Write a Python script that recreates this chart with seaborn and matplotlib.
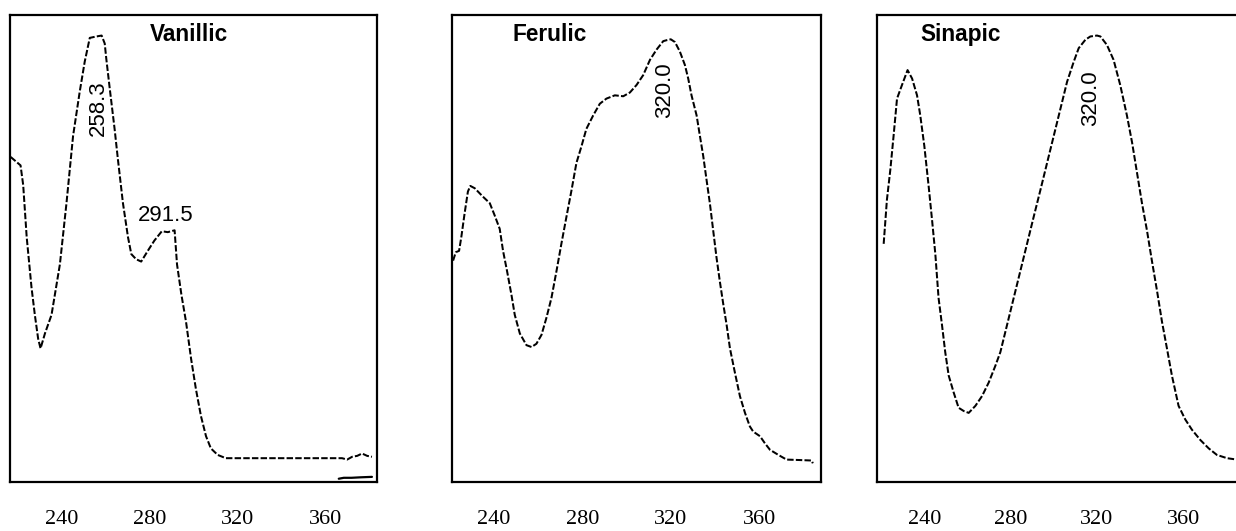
import numpy as np
import pandas as pd
import matplotlib
matplotlib.use("Agg")
import matplotlib.pyplot as plt
from matplotlib.font_manager import FontProperties
import seaborn as sns

sns.set_theme(style="white")
plt.rcParams["font.family"] = ["Liberation Sans", "DejaVu Sans"]

# ---- spectra (wavelength in nm, absorbance in relative units) ----
vanillic_nm = [216.9, 221.4, 222.6, 224.2, 226.4, 227.9, 229.4, 230.5, 232.5, 235.5,
               239.3, 242.3, 245.3, 248.3, 250.6, 252.9, 255.9, 258.3, 259.7, 260.4,
               262.0, 264.2, 265.7, 268.0, 270.3, 271.8, 274.0, 276.3, 279.3, 282.3,
               285.7, 288.4, 291.5, 292.6, 294.6, 296.7, 299.0, 301.2, 303.5, 305.8,
               308.0, 311.1, 314.8, 367.7, 370.0, 372.3, 374.6, 376.8, 379.1, 381.3]
vanillic_abs = [0.696, 0.678, 0.636, 0.524, 0.416, 0.358, 0.307, 0.286, 0.318, 0.358,
                0.466, 0.597, 0.741, 0.835, 0.900, 0.951, 0.954, 0.956, 0.939, 0.907,
                0.842, 0.756, 0.691, 0.597, 0.524, 0.488, 0.477, 0.472, 0.495, 0.517,
                0.537, 0.535, 0.539, 0.466, 0.401, 0.343, 0.264, 0.199, 0.141, 0.098,
                0.072, 0.058, 0.051, 0.051, 0.048, 0.054, 0.056, 0.061, 0.056, 0.054]
# short baseline trace near the bottom right of the first panel
vanillic_tail_nm = [366.2, 368.5, 372.0, 376.0, 381.3]
vanillic_tail_abs = [0.007, 0.009, 0.009, 0.010, 0.011]

ferulic_nm = [221.5, 222.7, 224.2, 225.2, 226.7, 228.2, 229.3, 231.3, 235.0, 238.1,
              240.3, 242.6, 244.1, 245.9, 247.9, 249.4, 251.7, 254.7, 257.0, 259.2,
              261.5, 263.7, 266.0, 268.3, 270.5, 272.8, 275.1, 277.3, 279.6, 281.8,
              284.9, 287.9, 290.9, 294.7, 298.5, 301.5, 304.5, 307.5, 310.6, 313.6,
              316.6, 318.1, 320.0, 321.9, 324.1, 326.4, 327.9, 329.4, 331.7, 333.2,
              334.7, 336.2, 337.7, 339.2, 340.7, 342.2, 343.8, 345.3, 346.8, 349.0,
              351.3, 353.6, 355.8, 357.3, 360.4, 362.6, 364.9, 368.7, 372.4, 378.5,
              383.8, 384.3]
ferulic_abs = [0.474, 0.492, 0.495, 0.524, 0.575, 0.622, 0.634, 0.629, 0.611, 0.597,
               0.571, 0.542, 0.495, 0.452, 0.401, 0.358, 0.318, 0.293, 0.289, 0.296,
               0.315, 0.351, 0.394, 0.452, 0.510, 0.568, 0.625, 0.683, 0.719, 0.756,
               0.785, 0.810, 0.821, 0.828, 0.826, 0.834, 0.850, 0.871, 0.904, 0.926,
               0.944, 0.946, 0.948, 0.942, 0.922, 0.893, 0.864, 0.828, 0.785, 0.741,
               0.698, 0.647, 0.597, 0.539, 0.481, 0.430, 0.380, 0.336, 0.286, 0.235,
               0.184, 0.148, 0.119, 0.108, 0.098, 0.083, 0.069, 0.058, 0.048, 0.047,
               0.046, 0.040]

sinapic_nm = [220.9, 221.7, 222.4, 224.0, 225.5, 227.1, 229.4, 232.0, 234.1, 236.4,
              237.9, 239.8, 241.8, 243.4, 244.9, 246.4, 248.0, 249.5, 251.1, 253.4,
              255.7, 258.1, 260.4, 263.5, 266.6, 269.7, 272.8, 275.1, 278.2, 281.3,
              284.4, 287.5, 290.6, 293.7, 296.8, 299.9, 303.0, 306.1, 309.2, 311.5,
              314.6, 316.9, 320.0, 321.6, 324.6, 327.7, 330.8, 333.9, 336.3, 338.6,
              340.9, 343.2, 345.5, 347.9, 350.2, 352.5, 354.8, 357.9, 361.0, 364.1,
              368.0, 371.9, 375.7, 380.4, 385.0]
sinapic_abs = [0.510, 0.560, 0.604, 0.669, 0.741, 0.821, 0.850, 0.882, 0.864, 0.828,
               0.785, 0.719, 0.633, 0.560, 0.488, 0.394, 0.336, 0.278, 0.228, 0.192,
               0.159, 0.152, 0.148, 0.163, 0.184, 0.213, 0.249, 0.278, 0.336, 0.394,
               0.452, 0.510, 0.568, 0.625, 0.683, 0.741, 0.799, 0.857, 0.900, 0.929,
               0.947, 0.954, 0.956, 0.954, 0.936, 0.904, 0.850, 0.785, 0.727, 0.662,
               0.597, 0.539, 0.474, 0.409, 0.343, 0.286, 0.228, 0.163, 0.134, 0.112,
               0.090, 0.072, 0.058, 0.051, 0.048]

compounds = ["Vanillic", "Ferulic", "Sinapic"]
tick_values = [240, 280, 320, 360]

# labelled absorption maxima (nm)
vanillic_peaks = [258.3, 291.5]
ferulic_peaks = [320.0]
sinapic_peaks = [320.0]

# ---- layout ----
W, H = 1236, 531
fig = plt.figure(figsize=(W / 100, H / 100), dpi=100)

def px_axes(x0, x1, y0=15, y1=482):
    return fig.add_axes([x0 / W, (H - y1) / H, (x1 - x0) / W, (y1 - y0) / H])

panels = [
    dict(rect=(10, 377), xlim=(216.6, 383.6), name=compounds[0], title_x=0.488,
         nm=vanillic_nm, ab=vanillic_abs, peaks=vanillic_peaks,
         label_style=[(-1.7, 0.800, 90), (-3.9, 0.571, 0)]),
    dict(rect=(452, 821), xlim=(221.0, 388.0), name=compounds[1], title_x=0.266,
         nm=ferulic_nm, ab=ferulic_abs, peaks=ferulic_peaks,
         label_style=[(-2.7, 0.839, 90)]),
    dict(rect=(877, 1241), xlim=(217.8, 386.9), name=compounds[2], title_x=0.231,
         nm=sinapic_nm, ab=sinapic_abs, peaks=sinapic_peaks,
         label_style=[(-3.1, 0.821, 90)]),
]

dash = (0, (3.2, 1.1))
tick_font = FontProperties(family="Liberation Serif", size=16)

for i, p in enumerate(panels):
    ax = px_axes(*p["rect"])
    df = pd.DataFrame({"nm": p["nm"], "abs": p["ab"]})
    sns.lineplot(data=df, x="nm", y="abs", ax=ax, color="black", lw=1.45,
                 linestyle=dash, estimator=None)
    if i == 0:
        tail = pd.DataFrame({"nm": vanillic_tail_nm, "abs": vanillic_tail_abs})
        sns.lineplot(data=tail, x="nm", y="abs", ax=ax, color="black", lw=1.6,
                     estimator=None)

    ax.set_xlim(*p["xlim"])
    ax.set_ylim(0, 1)
    ax.set_xlabel("")
    ax.set_ylabel("")
    ax.set_yticks([])
    ax.tick_params(axis="x", length=0, pad=20, colors="black")
    ax.set_xticks(tick_values)
    ax.set_xticklabels([str(t) for t in tick_values])
    for lab in ax.get_xticklabels():
        lab.set_fontproperties(tick_font)
    for s in ax.spines.values():
        s.set_visible(True)
        s.set_color("black")
        s.set_linewidth(1.6)
    ax.set_facecolor("white")

    ax.text(p["title_x"], 0.958, p["name"], transform=ax.transAxes,
            ha="center", va="center", fontsize=16.3, fontweight="bold",
            color="black")

    for peak, (dx, ly, rot) in zip(p["peaks"], p["label_style"]):
        ax.text(peak + dx, ly, f"{peak:.1f}", rotation=rot, ha="center",
                va="center", fontsize=16, color="black")

fig.savefig("out.png", dpi=100, facecolor="white")
